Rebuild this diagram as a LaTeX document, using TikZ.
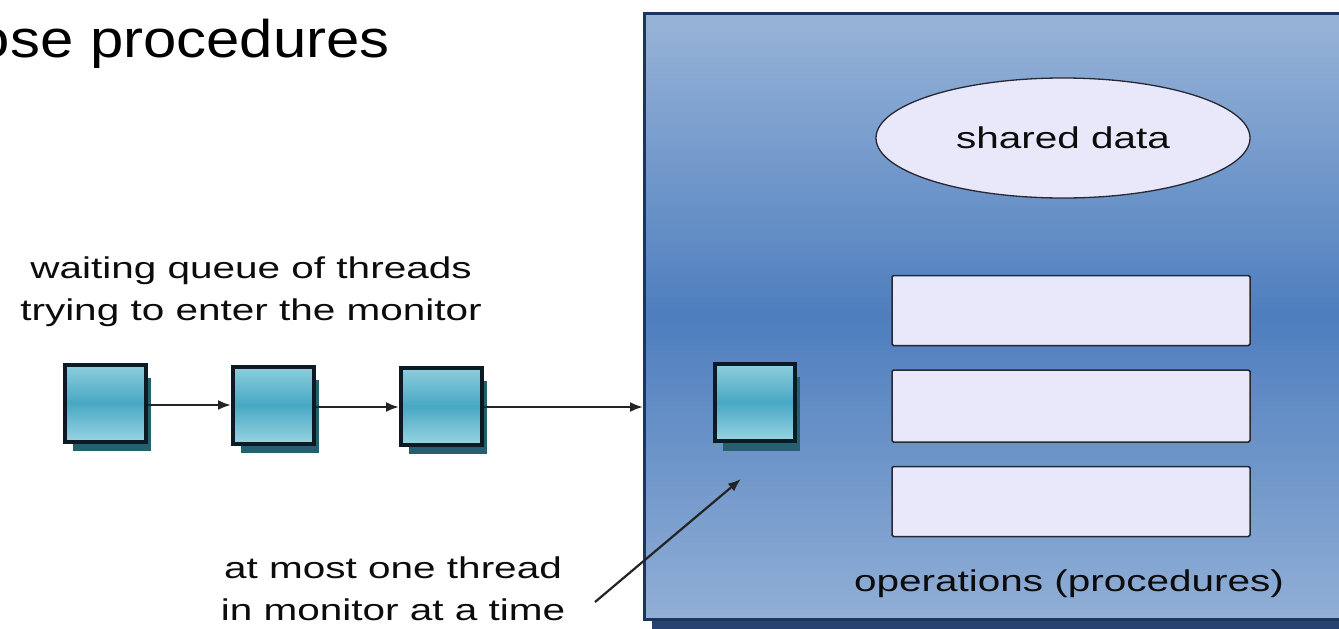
\documentclass[tikz,border=0pt]{standalone}
\usepackage{fontspec}
\newfontfamily\titlefont{Liberation Sans}[FakeStretch=1.13]
\newfontfamily\diagfont{Liberation Sans}[FakeStretch=1.35]
\usetikzlibrary{shapes.geometric,arrows.meta,shadows}

\definecolor{frameedge}{RGB}{27,53,94}
\definecolor{frameshade}{RGB}{38,66,110}
\definecolor{frametop}{RGB}{152,180,216}
\definecolor{framemid}{RGB}{78,126,190}
\definecolor{framebot}{RGB}{145,175,214}
\definecolor{panel}{RGB}{232,232,250}
\definecolor{paneledge}{RGB}{38,40,52}
\definecolor{threadtop}{RGB}{142,206,221}
\definecolor{threadmid}{RGB}{72,168,196}
\definecolor{threadbot}{RGB}{152,212,226}
\definecolor{threadedge}{RGB}{12,26,36}
\definecolor{threadshadow}{RGB}{38,96,112}
\definecolor{ink}{RGB}{12,12,12}
\definecolor{wire}{RGB}{36,36,36}

\begin{document}
\begin{tikzpicture}[x=1pt,y=-1pt,
  lbl/.style={text=ink, font=\diagfont\fontsize{30}{42}\selectfont, align=center, inner sep=0pt},
  thread/.style={rectangle, draw=threadedge, line width=4pt, inner sep=0pt,
    minimum width=81pt, minimum height=77pt,
    top color=threadtop, bottom color=threadbot, middle color=threadmid,
    general shadow={shadow xshift=7pt, shadow yshift=-12pt, shadow scale=0.96,
      fill=threadshadow, opacity=1}},
  oppanel/.style={rectangle, draw=paneledge, line width=1.5pt, fill=panel,
    rounded corners=1.5pt, minimum width=358pt, inner sep=0pt},
  conn/.style={draw=wire, line width=2.2pt, -{Latex[length=13pt,width=10pt]}}]

\clip (0,0) rectangle (1339,629);
\fill[white] (0,0) rectangle (1339,629);

% slide heading, running in from the left margin
\node[anchor=base east, inner sep=0pt, text=black,
      font=\titlefont\fontsize{53}{58}\selectfont] (heading) at (390,57) {ose procedures};

% the monitor frame with its lower shadow
\node[rectangle, draw=frameedge, line width=3pt, inner sep=0pt,
      minimum width=717.5pt, minimum height=606pt,
      top color=frametop, bottom color=framebot, middle color=framemid]
      (monitor) at (1003.25,316.5) {};
\fill[frameshade] ([shift={(9,0)}]monitor.south west) rectangle (1345,629);

% shared data and the operations
\node[ellipse, draw=paneledge, line width=1.3pt, fill=panel, inner sep=0pt,
      minimum width=374pt, minimum height=120pt, lbl] (shared) at (1063,138) {shared data};
\node[oppanel, minimum height=70pt] (op1) at (1071,310.5) {};
\node[oppanel, minimum height=72pt] (op2) at (1071,406) {};
\node[oppanel, minimum height=70pt] (op3) at (1071,501.5) {};
\node[lbl, anchor=base] (ops) at (1069,591) {operations (procedures)};

% thread inside the monitor
\node[thread, minimum width=80pt] (inside) at (755,402.5) {};

% queue of waiting threads
\node[thread] (q1) at (105.5,403) {};
\node[thread] (q2) at (273.5,405) {};
\node[thread] (q3) at (441.5,406) {};

\draw[conn] ([yshift=-2pt]q1.east) -- ([yshift=-2pt]q1.east -| q2.west);
\draw[conn] ([yshift=-2pt]q2.east) -- ([yshift=-2pt]q2.east -| q3.west);
\draw[conn] ([yshift=-1pt]q3.east) -- ([yshift=-1pt]q3.east -| monitor.west);

\node[lbl] (queuetxt) at (251,292) {waiting queue of threads\\trying to enter the monitor};
\node[lbl] (onetxt) at (393,589) {at most one thread\\in monitor at a time};

\coordinate (ptail) at (595,602);
\coordinate (phead) at (741,479);
\draw[conn] (ptail) -- (phead);
\end{tikzpicture}
\end{document}
